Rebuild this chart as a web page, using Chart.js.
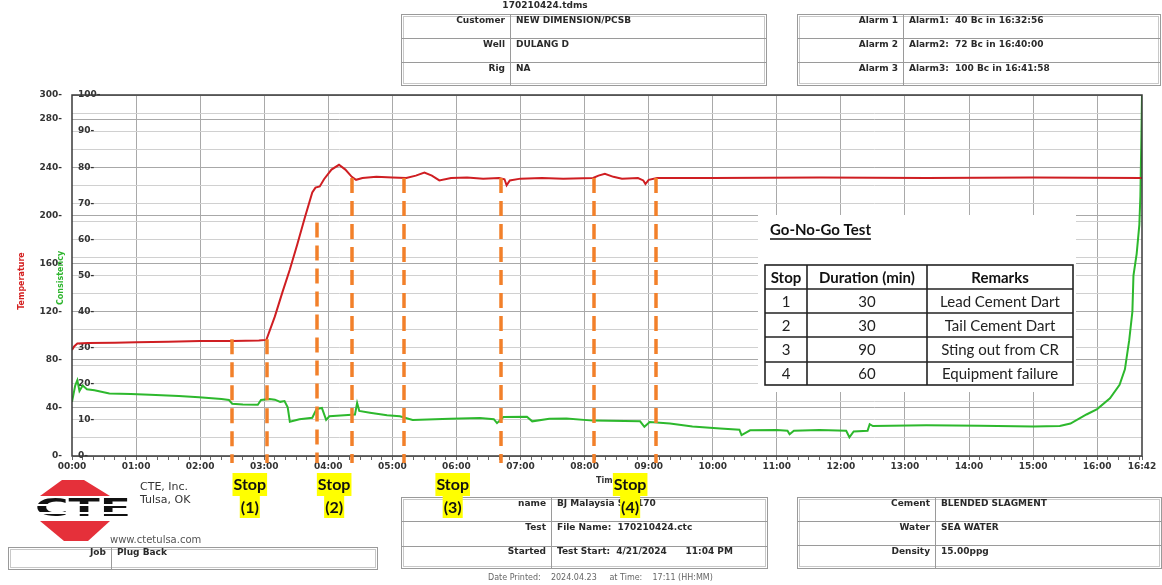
<!DOCTYPE html>
<html><head><meta charset="utf-8">
<script src="https://cdn.jsdelivr.net/npm/chart.js@4.4.1/dist/chart.umd.min.js"></script>
<style>html,body{margin:0;padding:0;background:#fff;overflow:hidden}#wrap{position:relative;width:1162px;height:585px}</style>
</head><body><div id="wrap"><canvas id="c" width="1162" height="585"></canvas></div>
<script>
// ---- data (time in minutes since test start) ----
const tempMinutes = [0,2,5,15,40,60,90,120,150,175,182,190,197,204,211,218,225,228,232,236,243,250,256,262,266,272,285,300,313,322,330,337,344,355,370,385,400,405,407,410,420,440,460,488,493,499,507,515,530,535,537,540,548,600,700,800,900,1002];
const tempValues  = [88,91,93.5,94,94.2,94.5,95,95.5,95.5,96,96.5,116,136,155,176,198,219,223,224,230,238,242,238,232,229.5,231,232,231.5,231,233,235.5,233,229,231,231.5,230.5,231,230,225,229,230.5,231,230.5,231,233,234.5,232,230.5,231,229,226,229.5,231,231,231.5,231,231.5,231];
const consMinutes = [0,3,5,7,10,14,21,35,55,73,100,119,140,147,150,160,174,177,185,190,195,199,202,204,213,225,229,234,238,241,255,265,267,269,279,295,307,319,354,382,395,398,404,426,431,447,463,488,532,536,541,560,581,607,625,627,635,660,670,672,676,700,725,728,732,745,747,750,800,850,900,925,935,950,960,972,981,986,990,993,994,997,999.5,1000.5,1001.5,1002];
const consValues  = [15,19.5,21,18,19.5,18.5,18.2,17.3,17.2,17.0,16.6,16.3,15.8,15.5,14.5,14.3,14.2,15.5,15.8,15.6,15.0,15.2,13.5,9.5,10.2,10.6,13.0,13.3,10.0,11.0,11.3,11.5,14.7,12.5,12.0,11.3,11.0,10.0,10.3,10.5,10.2,9.1,10.8,10.9,9.6,10.3,10.4,9.8,9.6,8.1,9.4,9.0,8.2,7.6,7.3,5.8,7.1,7.2,7.0,6.0,7.0,7.2,7.0,5.2,6.8,7.0,8.8,8.3,8.5,8.4,8.2,8.3,9.0,11.5,13.0,16.0,19.7,24,32,40,50,56,64,72,90,100];
const tempTicks = [0,40,80,120,160,200,240,280,300];
const consTickStep = 5;
const endMinute = 1002;
const endLabel = '16:42';
const stopStart = [150,229,311,489];
const stopEnd   = [183,262,402,547];
const stopTopStart = [97,194,231,231];
const stopTopEnd   = [97,231,231,231];
const stopIds = ['1','2','3','4'];
const stopDurations = ['30','30','90','60'];
const stopRemarks = ['Lead Cement Dart','Tail Cement Dart','Sting out from CR','Equipment failure'];

const DV = '"DejaVu Sans", Verdana, sans-serif';
const CAL = 'Lato, "Open Sans", sans-serif';

function txt(ctx, s, x, y, font, color, align, base){
  ctx.save(); ctx.font = font; ctx.fillStyle = color; ctx.textAlign = align||'left';
  ctx.textBaseline = base||'middle'; ctx.fillText(s, x, y); ctx.restore();
}
function boxTable(ctx, x, y, w, rowsY, divX, labels, values, ly){
  ctx.save(); ctx.strokeStyle = '#9a9a9a'; ctx.lineWidth = 1;
  ctx.strokeRect(x+0.5, y+0.5, w, rowsY[rowsY.length-1]-y);
  ctx.strokeStyle = '#c8c8c8';
  ctx.strokeRect(x+2.5, y+2.5, w-4, rowsY[rowsY.length-1]-y-4);
  ctx.strokeStyle = '#9a9a9a';
  for (let i=0;i<rowsY.length-1;i++){ ctx.beginPath(); ctx.moveTo(x, rowsY[i]+0.5); ctx.lineTo(x+w, rowsY[i]+0.5); ctx.stroke(); }
  ctx.beginPath(); ctx.moveTo(divX+0.5, y); ctx.lineTo(divX+0.5, rowsY[rowsY.length-1]); ctx.stroke();
  ctx.restore();
  const f = 'bold 9px '+DV;
  labels.forEach((l,i)=>{ txt(ctx,l,divX-5,ly[i],f,'#2a2a2a','right'); txt(ctx,values[i],divX+6,ly[i],f,'#2a2a2a','left'); });
}

const deco = {
  id:'deco',
  beforeDatasetsDraw(chart){
    const ctx = chart.ctx;
    ctx.save(); ctx.fillStyle = '#fff'; ctx.fillRect(758, 215, 318, 177); ctx.restore();
  },
  afterDraw(chart){
    const ctx = chart.ctx, a = chart.chartArea, xs = chart.scales.x, yt = chart.scales.yT;
    // frame
    ctx.save(); ctx.strokeStyle = '#3a3a3a'; ctx.lineWidth = 1.5;
    ctx.strokeRect(a.left, a.top, a.right-a.left, a.bottom-a.top); ctx.restore();
    // axis titles
    ctx.save(); ctx.translate(22, 281); ctx.rotate(-Math.PI/2);
    txt(ctx,'Temperature',0,0,'bold 8px '+DV,'#d42020','center'); ctx.restore();
    ctx.save(); ctx.translate(61, 278); ctx.rotate(-Math.PI/2);
    txt(ctx,'Consistency',0,0,'bold 8px '+DV,'#2fb52f','center'); ctx.restore();
    // stop lines
    ctx.save(); ctx.strokeStyle = '#F2802A'; ctx.lineWidth = 3.5; ctx.setLineDash([15,8]);
    stopStart.forEach((s,i)=>{
      [[s,stopTopStart[i]],[stopEnd[i],stopTopEnd[i]]].forEach(([m,t])=>{
        const px = Math.round(xs.getPixelForValue(m));
        ctx.beginPath(); ctx.moveTo(px, yt.getPixelForValue(t)); ctx.lineTo(px, a.bottom+7); ctx.stroke();
      });
    });
    ctx.restore();

    // header
    txt(ctx,'170210424.tdms',545,6,'bold 9px '+DV,'#2a2a2a','center');
    boxTable(ctx,401,14,365,[38,62,85],510,['Customer','Well','Rig'],['NEW DIMENSION/PCSB','DULANG D','NA'],[21,45,69]);
    boxTable(ctx,797,14,363,[38,62,85],903,['Alarm 1','Alarm 2','Alarm 3'],['Alarm1:  40 Bc in 16:32:56','Alarm2:  72 Bc in 16:40:00','Alarm3:  100 Bc in 16:41:58'],[21,45,69]);
    // footer boxes
    boxTable(ctx,8,547,369,[569],111,['Job'],['Plug Back'],[553]);
    boxTable(ctx,401,497,366,[521,546,568],551,['name','Test','Started'],['BJ Malaysia Sdn170','File Name:  170210424.ctc','Test Start:  4/21/2024      11:04 PM'],[504,528,552]);
    boxTable(ctx,797,497,364,[521,545,568],935,['Cement','Water','Density'],['BLENDED SLAGMENT','SEA WATER','15.00ppg'],[504,528,552]);
    txt(ctx,'Date Printed:    2024.04.23     at Time:    17:11 (HH:MM)',488,578,'8px '+DV,'#666','left');

    // logo
    ctx.save();
    ctx.fillStyle = '#e5303a';
    ctx.beginPath(); ctx.moveTo(62,480); ctx.lineTo(84,480); ctx.lineTo(110,496); ctx.lineTo(40,496); ctx.closePath(); ctx.fill();
    ctx.beginPath(); ctx.moveTo(40,521); ctx.lineTo(110,521); ctx.lineTo(88,541); ctx.lineTo(64,541); ctx.closePath(); ctx.fill();
    ctx.font = 'bold 27px '+DV; ctx.fillStyle = '#111'; ctx.textBaseline='middle';
    const w = ctx.measureText('CTE').width;
    ctx.translate(35, 509); ctx.scale(96/w, 0.95); ctx.fillText('CTE', 0, 0);
    ctx.restore();
    ctx.save(); ctx.strokeStyle = '#fff'; ctx.lineWidth = 2;
    ctx.beginPath(); ctx.moveTo(33,505); ctx.lineTo(132,505); ctx.moveTo(33,513); ctx.lineTo(132,513); ctx.stroke(); ctx.restore();
    txt(ctx,'CTE, Inc.',140,487,'11px '+DV,'#333','left');
    txt(ctx,'Tulsa, OK',140,500,'11px '+DV,'#333','left');
    txt(ctx,'www.ctetulsa.com',110,540,'10px '+DV,'#555','left');

    // stop labels
    stopStart.forEach((s,i)=>{
      const cx = (xs.getPixelForValue(s)+xs.getPixelForValue(stopEnd[i]))/2 + (i===3 ? 5 : 0);
      ctx.save(); ctx.font = 'bold 16px '+CAL;
      const w1 = ctx.measureText('Stop').width, l2 = '('+stopIds[i]+')', w2 = ctx.measureText(l2).width;
      ctx.fillStyle = '#ffff00';
      ctx.fillRect(cx-w1/2-1, 473, w1+2, 23);
      ctx.fillRect(cx-w2/2-1, 496, w2+2, 22);
      ctx.restore();
      txt(ctx,'Stop',cx,485,'bold 16px '+CAL,'#111','center');
      txt(ctx,l2,cx,508,'bold 16px '+CAL,'#111','center');
    });

    // Go-No-Go table
    txt(ctx,'Go-No-Go Test',770,230,'bold 15px '+CAL,'#111','left');
    ctx.save(); ctx.font='bold 15px '+CAL; const tw = ctx.measureText('Go-No-Go Test').width;
    ctx.strokeStyle='#111'; ctx.lineWidth=1.3; ctx.beginPath(); ctx.moveTo(770,239); ctx.lineTo(770+tw,239); ctx.stroke(); ctx.restore();
    const tx = [765,807,927,1073], ty = [265,289,313,337,362,385];
    ctx.save(); ctx.strokeStyle = '#222'; ctx.lineWidth = 1.6;
    ctx.strokeRect(tx[0], ty[0], tx[3]-tx[0], ty[5]-ty[0]);
    ty.slice(1,5).forEach(y=>{ ctx.beginPath(); ctx.moveTo(tx[0],y); ctx.lineTo(tx[3],y); ctx.stroke(); });
    tx.slice(1,3).forEach(x=>{ ctx.beginPath(); ctx.moveTo(x,ty[0]); ctx.lineTo(x,ty[5]); ctx.stroke(); });
    ctx.restore();
    const cxs = [(tx[0]+tx[1])/2,(tx[1]+tx[2])/2,(tx[2]+tx[3])/2];
    ['Stop','Duration (min)','Remarks'].forEach((h,j)=>txt(ctx,h,cxs[j],(ty[0]+ty[1])/2+1,'bold 15px '+CAL,'#111','center'));
    stopIds.forEach((id,i)=>{
      const yy = (ty[i+1]+ty[i+2])/2+1;
      txt(ctx,id,cxs[0],yy,'15px '+CAL,'#222','center');
      txt(ctx,stopDurations[i],cxs[1],yy,'15px '+CAL,'#222','center');
      txt(ctx,stopRemarks[i],cxs[2],yy,'15px '+CAL,'#222','center');
    });
  }
};

const tickFont = {family:'DejaVu Sans', size:9, weight:'bold'};
new Chart(document.getElementById('c').getContext('2d'), {
  type:'line',
  data:{datasets:[
    {label:'Temperature', data: tempMinutes.map((m,i)=>({x:m,y:tempValues[i]})), yAxisID:'yT', borderColor:'#cf1e22', borderWidth:2, pointRadius:0, tension:0},
    {label:'Consistency', data: consMinutes.map((m,i)=>({x:m,y:consValues[i]})), yAxisID:'yC', borderColor:'#2db82d', borderWidth:2, pointRadius:0, tension:0}
  ]},
  options:{
    responsive:false, animation:false, devicePixelRatio:1,
    layout:{padding:{left:0,right:20,top:95,bottom:99}},
    plugins:{legend:{display:false}, tooltip:{enabled:false}},
    scales:{
      x:{type:'linear', min:0, max:endMinute,
        afterBuildTicks:s=>{ const t=[]; for(let v=0; v<=1000; v+=10) t.push({value:v}); t.push({value:endMinute}); s.ticks=t; },
        ticks:{autoSkip:false, maxRotation:0, minRotation:0, padding:1, font:tickFont, color:'#333',
          callback:v=>{ if(v===endMinute) return endLabel; if(v%60===0){ const h=v/60; return (h<10?'0':'')+h+':00'; } return ''; }},
        grid:{color:c=> (c.tick && c.tick.value%60===0 && c.tick.value>0) ? '#a9a9a9' : 'rgba(0,0,0,0)', tickColor:'#666', tickLength:4},
        border:{display:false},
        title:{display:true, text:'Time', font:{family:'DejaVu Sans', size:8, weight:'bold'}, color:'#333', padding:0},
        afterFit:s=>{ s.height = 30; }
      },
      yC:{position:'left', min:0, max:100,
        ticks:{stepSize:consTickStep, mirror:true, padding:6, font:tickFont, color:'#333', callback:v=> v%10===0 ? v+'-' : ''},
        grid:{color:'#d0d0d0', drawTicks:false}, border:{display:false},
        afterFit:s=>{ s.width = 10; }
      },
      yT:{position:'left', min:0, max:300,
        afterBuildTicks:s=>{ s.ticks = tempTicks.map(v=>({value:v})); },
        ticks:{padding:0, font:tickFont, color:'#333', callback:v=> v+'-'},
        grid:{color:'#a8a8a8', drawTicks:false}, border:{display:false},
        afterFit:s=>{ s.width = 62; }
      }
    }
  },
  plugins:[deco]
});
</script></body></html>
